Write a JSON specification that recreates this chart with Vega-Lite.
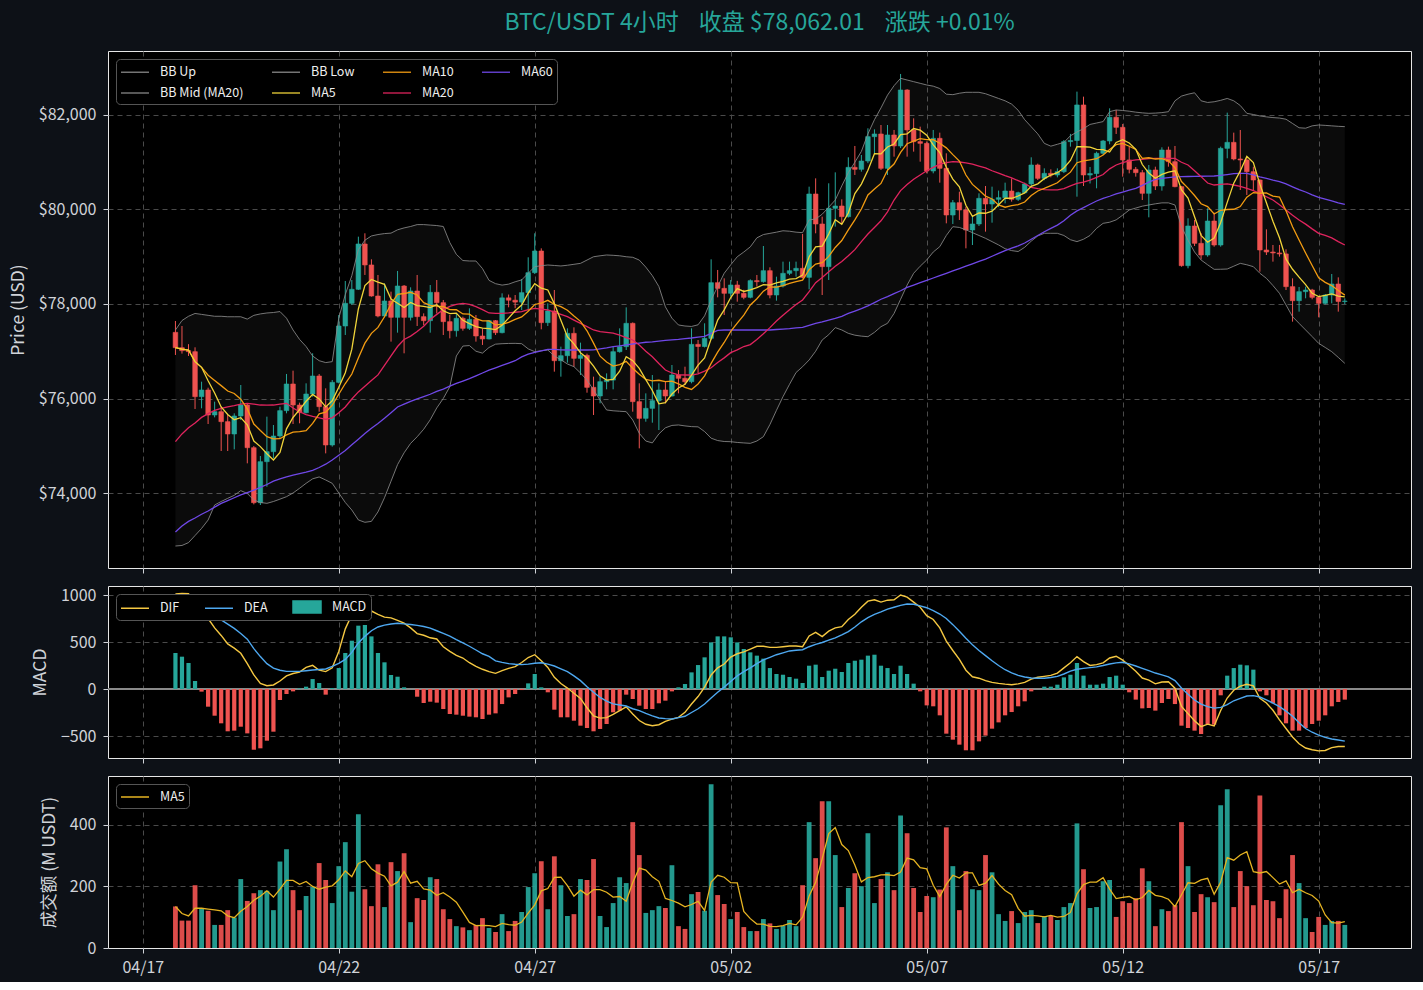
{
"$schema": "https://vega.github.io/schema/vega-lite/v6.json",
"background": "#0d1117",
"padding": {"left": 8, "top": 11, "right": 12, "bottom": 6},
"spacing": 11,
"config": {
  "font": "Noto Sans CJK SC",
  "view": {"fill": "#000000", "stroke": "#e6e6e6", "strokeWidth": 1},
  "axis": {"labelColor": "#d0d3d8", "titleColor": "#d0d3d8", "tickColor": "#d0d3d8", "domain": false, "gridColor": "#4a4a4a", "gridDash": [5, 4], "gridWidth": 1, "labelFontSize": 16, "titleFontSize": 17.5, "titleFontWeight": "normal", "tickSize": 5, "labelPadding": 7, "titlePadding": 11, "labelFont": "Noto Sans CJK SC", "titleFont": "Noto Sans CJK SC"},
  "legend": {"labelColor": "#eeeeee", "labelFontSize": 12.5, "labelFont": "Noto Sans CJK SC", "fillColor": "#000000", "strokeColor": "#555555", "cornerRadius": 4, "padding": 4, "offset": 8, "symbolType": "M-1,0L2.5,0", "symbolSize": 256, "symbolStrokeWidth": 1.5, "labelOffset": 22, "rowPadding": 5, "columnPadding": 25}
},
"resolve": {"scale": {"color": "independent"}, "legend": {"color": "independent"}},
"data": {"values": [
{"t":"2025-04-17T20:00Z","o":77400,"h":77640,"l":76921,"c":77076,"v":135,"bu":77450,"bl":72878,"m20":75086,"m60":73175,"dif":1011,"dea":805,"hist":383},
{"t":"2025-04-18T00:00Z","o":77076,"h":77534,"l":76950,"c":77012,"v":89,"bu":77650,"bl":72890,"m20":75250,"m60":73300,"dif":1018,"dea":876,"hist":344},
{"t":"2025-04-18T04:00Z","o":77012,"h":77150,"l":76900,"c":76991,"v":89,"bu":77740,"bl":72950,"m20":75380,"m60":73400,"dif":1015,"dea":885,"hist":277},
{"t":"2025-04-18T08:00Z","o":76991,"h":77083,"l":75778,"c":76039,"v":204,"bu":77800,"bl":73100,"m20":75480,"m60":73470,"dif":922,"dea":887,"hist":85},
{"t":"2025-04-18T12:00Z","o":76039,"h":76356,"l":75792,"c":76180,"v":129,"bu":77780,"bl":73250,"m20":75600,"m60":73550,"dif":840,"dea":869,"hist":-28},
{"t":"2025-04-18T16:00Z","o":76180,"h":76229,"l":75460,"c":75651,"v":121,"bu":77760,"bl":73428,"m20":75680,"m60":73620,"dif":750,"dea":830,"hist":-188},
{"t":"2025-04-18T20:00Z","o":75651,"h":75933,"l":75601,"c":75721,"v":75,"bu":77740,"bl":73746,"m20":75750,"m60":73700,"dif":650,"dea":775,"hist":-284},
{"t":"2025-04-19T00:00Z","o":75721,"h":75827,"l":74889,"c":75510,"v":75,"bu":77740,"bl":73820,"m20":75790,"m60":73781,"dif":570,"dea":735,"hist":-365},
{"t":"2025-04-19T04:00Z","o":75510,"h":75651,"l":74889,"c":75249,"v":123,"bu":77730,"bl":73887,"m20":75825,"m60":73840,"dif":480,"dea":690,"hist":-450},
{"t":"2025-04-19T08:00Z","o":75249,"h":75686,"l":74924,"c":75630,"v":99,"bu":77730,"bl":73950,"m20":75850,"m60":73900,"dif":435,"dea":645,"hist":-443},
{"t":"2025-04-19T12:00Z","o":75630,"h":76286,"l":75545,"c":75862,"v":224,"bu":77730,"bl":74050,"m20":75880,"m60":73960,"dif":380,"dea":590,"hist":-401},
{"t":"2025-04-19T16:00Z","o":75862,"h":75898,"l":74628,"c":74959,"v":153,"bu":77680,"bl":73990,"m20":75898,"m60":74010,"dif":270,"dea":530,"hist":-472},
{"t":"2025-04-19T20:00Z","o":74959,"h":74995,"l":73760,"c":73795,"v":178,"bu":77760,"bl":73850,"m20":75880,"m60":74060,"dif":150,"dea":430,"hist":-646},
{"t":"2025-04-20T00:00Z","o":73795,"h":74783,"l":73746,"c":74663,"v":188,"bu":77790,"bl":73800,"m20":75862,"m60":74120,"dif":60,"dea":345,"hist":-631},
{"t":"2025-04-20T04:00Z","o":74663,"h":75616,"l":74134,"c":74875,"v":186,"bu":77810,"bl":73781,"m20":75860,"m60":74180,"dif":35,"dea":270,"hist":-550},
{"t":"2025-04-20T08:00Z","o":74875,"h":75439,"l":74734,"c":75206,"v":123,"bu":77820,"bl":73820,"m20":75862,"m60":74250,"dif":43,"dea":223,"hist":-454},
{"t":"2025-04-20T12:00Z","o":75206,"h":75827,"l":75157,"c":75743,"v":281,"bu":77840,"bl":73870,"m20":75880,"m60":74300,"dif":85,"dea":200,"hist":-117},
{"t":"2025-04-20T16:00Z","o":75743,"h":76519,"l":75686,"c":76307,"v":321,"bu":77700,"bl":73922,"m20":75898,"m60":74340,"dif":140,"dea":188,"hist":-53},
{"t":"2025-04-20T20:00Z","o":76307,"h":76589,"l":75460,"c":75862,"v":188,"bu":77450,"bl":74000,"m20":75800,"m60":74380,"dif":165,"dea":188,"hist":-25},
{"t":"2025-04-21T00:00Z","o":75862,"h":75912,"l":75475,"c":75700,"v":123,"bu":77250,"bl":74100,"m20":75720,"m60":74410,"dif":180,"dea":188,"hist":7},
{"t":"2025-04-21T04:00Z","o":75700,"h":76321,"l":75686,"c":76095,"v":169,"bu":77100,"bl":74205,"m20":75660,"m60":74440,"dif":230,"dea":195,"hist":25},
{"t":"2025-04-21T08:00Z","o":76095,"h":76956,"l":76039,"c":76476,"v":199,"bu":76900,"bl":74300,"m20":75620,"m60":74480,"dif":252,"dea":202,"hist":106},
{"t":"2025-04-21T12:00Z","o":76476,"h":76519,"l":75721,"c":75827,"v":276,"bu":76800,"bl":74340,"m20":75590,"m60":74540,"dif":200,"dea":208,"hist":64},
{"t":"2025-04-21T16:00Z","o":75827,"h":76215,"l":74839,"c":75016,"v":221,"bu":76760,"bl":74275,"m20":75560,"m60":74610,"dif":185,"dea":213,"hist":-60},
{"t":"2025-04-21T20:00Z","o":75016,"h":76391,"l":74981,"c":76342,"v":146,"bu":76780,"bl":74205,"m20":75590,"m60":74700,"dif":225,"dea":240,"hist":10},
{"t":"2025-04-22T00:00Z","o":76342,"h":77767,"l":76321,"c":77534,"v":266,"bu":77700,"bl":74000,"m20":75700,"m60":74800,"dif":400,"dea":272,"hist":223},
{"t":"2025-04-22T04:00Z","o":77534,"h":78487,"l":77344,"c":78014,"v":344,"bu":78200,"bl":73800,"m20":75820,"m60":74900,"dif":640,"dea":315,"hist":383},
{"t":"2025-04-22T08:00Z","o":78014,"h":78508,"l":77979,"c":78311,"v":183,"bu":78600,"bl":73640,"m20":75990,"m60":75020,"dif":790,"dea":390,"hist":514},
{"t":"2025-04-22T12:00Z","o":78311,"h":79425,"l":78296,"c":79270,"v":435,"bu":79150,"bl":73430,"m20":76140,"m60":75140,"dif":850,"dea":490,"hist":674},
{"t":"2025-04-22T16:00Z","o":79270,"h":79496,"l":78614,"c":78826,"v":191,"bu":79350,"bl":73380,"m20":76260,"m60":75260,"dif":855,"dea":560,"hist":681},
{"t":"2025-04-22T20:00Z","o":78826,"h":78945,"l":78155,"c":78169,"v":136,"bu":79440,"bl":73400,"m20":76380,"m60":75370,"dif":830,"dea":620,"hist":560},
{"t":"2025-04-23T00:00Z","o":78169,"h":78614,"l":77718,"c":77746,"v":272,"bu":79470,"bl":73600,"m20":76500,"m60":75470,"dif":795,"dea":660,"hist":383},
{"t":"2025-04-23T04:00Z","o":77746,"h":78437,"l":77718,"c":78064,"v":133,"bu":79490,"bl":73900,"m20":76700,"m60":75580,"dif":765,"dea":680,"hist":284},
{"t":"2025-04-23T08:00Z","o":78064,"h":78261,"l":77203,"c":77718,"v":279,"bu":79500,"bl":74250,"m20":76900,"m60":75700,"dif":757,"dea":692,"hist":149},
{"t":"2025-04-23T12:00Z","o":77718,"h":78699,"l":77393,"c":78381,"v":250,"bu":79570,"bl":74600,"m20":77100,"m60":75820,"dif":730,"dea":699,"hist":131},
{"t":"2025-04-23T16:00Z","o":78381,"h":78402,"l":76956,"c":77718,"v":308,"bu":79610,"bl":74850,"m20":77250,"m60":75880,"dif":700,"dea":693,"hist":18},
{"t":"2025-04-23T20:00Z","o":77718,"h":78353,"l":77650,"c":78275,"v":84,"bu":79640,"bl":75050,"m20":77320,"m60":75940,"dif":650,"dea":686,"hist":0},
{"t":"2025-04-24T00:00Z","o":78275,"h":78614,"l":77534,"c":77732,"v":162,"bu":79680,"bl":75190,"m20":77420,"m60":75990,"dif":590,"dea":677,"hist":-82},
{"t":"2025-04-24T04:00Z","o":77732,"h":77802,"l":77550,"c":77647,"v":156,"bu":79680,"bl":75350,"m20":77530,"m60":76040,"dif":572,"dea":665,"hist":-149},
{"t":"2025-04-24T08:00Z","o":77647,"h":78402,"l":77393,"c":78247,"v":230,"bu":79670,"bl":75550,"m20":77670,"m60":76090,"dif":545,"dea":648,"hist":-135},
{"t":"2025-04-24T12:00Z","o":78247,"h":78508,"l":77802,"c":78028,"v":224,"bu":79660,"bl":75800,"m20":77780,"m60":76150,"dif":532,"dea":620,"hist":-145},
{"t":"2025-04-24T16:00Z","o":78028,"h":78085,"l":77344,"c":77626,"v":126,"bu":79640,"bl":76000,"m20":77880,"m60":76200,"dif":450,"dea":592,"hist":-213},
{"t":"2025-04-24T20:00Z","o":77626,"h":77767,"l":77273,"c":77435,"v":94,"bu":79300,"bl":76250,"m20":77950,"m60":76260,"dif":400,"dea":562,"hist":-266},
{"t":"2025-04-25T00:00Z","o":77435,"h":77802,"l":77308,"c":77697,"v":71,"bu":79050,"bl":76900,"m20":77990,"m60":76320,"dif":357,"dea":525,"hist":-273},
{"t":"2025-04-25T04:00Z","o":77697,"h":77732,"l":77435,"c":77485,"v":67,"bu":78920,"bl":77110,"m20":78014,"m60":76370,"dif":330,"dea":490,"hist":-284},
{"t":"2025-04-25T08:00Z","o":77485,"h":77908,"l":77450,"c":77675,"v":58,"bu":78910,"bl":77120,"m20":77990,"m60":76420,"dif":280,"dea":455,"hist":-294},
{"t":"2025-04-25T12:00Z","o":77675,"h":77767,"l":77203,"c":77323,"v":75,"bu":78910,"bl":77000,"m20":77943,"m60":76480,"dif":240,"dea":415,"hist":-301},
{"t":"2025-04-25T16:00Z","o":77323,"h":77480,"l":77133,"c":77260,"v":97,"bu":78750,"bl":76960,"m20":77880,"m60":76540,"dif":210,"dea":375,"hist":-319},
{"t":"2025-04-25T20:00Z","o":77260,"h":77661,"l":77250,"c":77647,"v":65,"bu":78500,"bl":77080,"m20":77810,"m60":76600,"dif":185,"dea":347,"hist":-273},
{"t":"2025-04-26T00:00Z","o":77647,"h":77661,"l":77344,"c":77393,"v":52,"bu":78430,"bl":77150,"m20":77802,"m60":76650,"dif":167,"dea":300,"hist":-259},
{"t":"2025-04-26T04:00Z","o":77393,"h":78226,"l":77379,"c":78130,"v":110,"bu":78400,"bl":77160,"m20":77802,"m60":76700,"dif":195,"dea":283,"hist":-160},
{"t":"2025-04-26T08:00Z","o":78130,"h":78200,"l":77930,"c":78080,"v":55,"bu":78420,"bl":77165,"m20":77810,"m60":76750,"dif":220,"dea":270,"hist":-89},
{"t":"2025-04-26T12:00Z","o":78080,"h":78190,"l":77910,"c":78040,"v":88,"bu":78470,"bl":77167,"m20":77825,"m60":76800,"dif":238,"dea":263,"hist":-53},
{"t":"2025-04-26T16:00Z","o":78040,"h":78529,"l":77873,"c":78240,"v":117,"bu":78510,"bl":77160,"m20":77840,"m60":76880,"dif":282,"dea":259,"hist":-11},
{"t":"2025-04-26T20:00Z","o":78240,"h":78988,"l":77859,"c":78663,"v":198,"bu":78650,"bl":77050,"m20":77880,"m60":76940,"dif":335,"dea":265,"hist":60},
{"t":"2025-04-27T00:00Z","o":78663,"h":79496,"l":78635,"c":79122,"v":243,"bu":78790,"bl":76991,"m20":77908,"m60":76977,"dif":365,"dea":274,"hist":160},
{"t":"2025-04-27T04:00Z","o":79122,"h":79178,"l":77464,"c":77605,"v":282,"bu":78810,"bl":77010,"m20":77890,"m60":77010,"dif":300,"dea":280,"hist":18},
{"t":"2025-04-27T08:00Z","o":77605,"h":78014,"l":77534,"c":77852,"v":126,"bu":78825,"bl":77026,"m20":77873,"m60":77040,"dif":230,"dea":265,"hist":-35},
{"t":"2025-04-27T12:00Z","o":77852,"h":78296,"l":76568,"c":76800,"v":298,"bu":78815,"bl":76900,"m20":77830,"m60":77040,"dif":124,"dea":245,"hist":-220},
{"t":"2025-04-27T16:00Z","o":76800,"h":77097,"l":76462,"c":76906,"v":204,"bu":78805,"bl":76820,"m20":77780,"m60":77030,"dif":58,"dea":215,"hist":-301},
{"t":"2025-04-27T20:00Z","o":76906,"h":77485,"l":76758,"c":77379,"v":104,"bu":78820,"bl":76730,"m20":77732,"m60":77026,"dif":10,"dea":185,"hist":-301},
{"t":"2025-04-28T00:00Z","o":77379,"h":77506,"l":76673,"c":76850,"v":110,"bu":78840,"bl":76673,"m20":77660,"m60":77026,"dif":-45,"dea":140,"hist":-337},
{"t":"2025-04-28T04:00Z","o":76850,"h":77182,"l":76497,"c":76913,"v":224,"bu":78860,"bl":76540,"m20":77590,"m60":77026,"dif":-100,"dea":89,"hist":-390},
{"t":"2025-04-28T08:00Z","o":76913,"h":76950,"l":76123,"c":76236,"v":221,"bu":78930,"bl":76391,"m20":77520,"m60":77026,"dif":-200,"dea":25,"hist":-415},
{"t":"2025-04-28T12:00Z","o":76236,"h":76462,"l":75651,"c":76053,"v":289,"bu":79000,"bl":76180,"m20":77450,"m60":77030,"dif":-285,"dea":-35,"hist":-450},
{"t":"2025-04-28T16:00Z","o":76053,"h":76462,"l":75898,"c":76356,"v":104,"bu":79020,"bl":75968,"m20":77414,"m60":77050,"dif":-310,"dea":-90,"hist":-425},
{"t":"2025-04-28T20:00Z","o":76356,"h":76532,"l":76194,"c":76390,"v":68,"bu":79037,"bl":75757,"m20":77400,"m60":77070,"dif":-305,"dea":-130,"hist":-372},
{"t":"2025-04-29T00:00Z","o":76390,"h":77097,"l":76194,"c":76991,"v":146,"bu":79030,"bl":75740,"m20":77385,"m60":77097,"dif":-270,"dea":-158,"hist":-248},
{"t":"2025-04-29T04:00Z","o":76991,"h":77485,"l":76970,"c":77097,"v":230,"bu":79020,"bl":75730,"m20":77340,"m60":77115,"dif":-230,"dea":-170,"hist":-230},
{"t":"2025-04-29T08:00Z","o":77097,"h":77929,"l":77026,"c":77591,"v":211,"bu":79000,"bl":75721,"m20":77290,"m60":77135,"dif":-190,"dea":-181,"hist":-60},
{"t":"2025-04-29T12:00Z","o":77591,"h":77610,"l":75721,"c":75933,"v":409,"bu":78988,"bl":75545,"m20":77238,"m60":77153,"dif":-265,"dea":-210,"hist":-106},
{"t":"2025-04-29T16:00Z","o":75933,"h":76321,"l":74945,"c":75580,"v":302,"bu":78930,"bl":75263,"m20":77132,"m60":77170,"dif":-335,"dea":-230,"hist":-177},
{"t":"2025-04-29T20:00Z","o":75580,"h":76109,"l":75509,"c":75792,"v":114,"bu":78780,"bl":75100,"m20":77000,"m60":77190,"dif":-375,"dea":-260,"hist":-213},
{"t":"2025-04-30T00:00Z","o":75792,"h":76497,"l":75488,"c":75954,"v":123,"bu":78600,"bl":75060,"m20":76885,"m60":77200,"dif":-390,"dea":-285,"hist":-213},
{"t":"2025-04-30T04:00Z","o":75954,"h":76321,"l":75333,"c":76180,"v":136,"bu":78370,"bl":75250,"m20":76740,"m60":77215,"dif":-380,"dea":-308,"hist":-152},
{"t":"2025-04-30T08:00Z","o":76180,"h":76356,"l":75897,"c":76053,"v":130,"bu":77940,"bl":75380,"m20":76603,"m60":77230,"dif":-345,"dea":-315,"hist":-124},
{"t":"2025-04-30T12:00Z","o":76053,"h":76709,"l":76040,"c":76497,"v":269,"bu":77700,"bl":75430,"m20":76540,"m60":77240,"dif":-320,"dea":-319,"hist":-25},
{"t":"2025-04-30T16:00Z","o":76497,"h":76603,"l":76109,"c":76427,"v":71,"bu":77556,"bl":75440,"m20":76500,"m60":77250,"dif":-301,"dea":-305,"hist":18},
{"t":"2025-04-30T20:00Z","o":76427,"h":76673,"l":76285,"c":76356,"v":62,"bu":77534,"bl":75420,"m20":76497,"m60":77265,"dif":-248,"dea":-290,"hist":53},
{"t":"2025-05-01T00:00Z","o":76356,"h":77485,"l":76321,"c":77146,"v":175,"bu":77525,"bl":75405,"m20":76497,"m60":77280,"dif":-160,"dea":-250,"hist":177},
{"t":"2025-05-01T04:00Z","o":77146,"h":77238,"l":76532,"c":77100,"v":182,"bu":77560,"bl":75400,"m20":76520,"m60":77300,"dif":-80,"dea":-210,"hist":255},
{"t":"2025-05-01T08:00Z","o":77100,"h":77591,"l":77080,"c":77273,"v":121,"bu":77750,"bl":75300,"m20":76580,"m60":77315,"dif":20,"dea":-160,"hist":337},
{"t":"2025-05-01T12:00Z","o":77273,"h":78945,"l":77240,"c":78451,"v":532,"bu":78085,"bl":75160,"m20":76650,"m60":77380,"dif":150,"dea":-95,"hist":496},
{"t":"2025-05-01T16:00Z","o":78451,"h":78720,"l":78141,"c":78331,"v":172,"bu":78370,"bl":75110,"m20":76760,"m60":77440,"dif":225,"dea":-35,"hist":560},
{"t":"2025-05-01T20:00Z","o":78331,"h":78543,"l":77767,"c":78226,"v":143,"bu":78650,"bl":75090,"m20":76860,"m60":77450,"dif":266,"dea":20,"hist":560},
{"t":"2025-05-02T00:00Z","o":78226,"h":78508,"l":78155,"c":78402,"v":94,"bu":78830,"bl":75086,"m20":76970,"m60":77450,"dif":340,"dea":80,"hist":550},
{"t":"2025-05-02T04:00Z","o":78402,"h":78490,"l":78049,"c":78226,"v":117,"bu":79000,"bl":75070,"m20":77030,"m60":77450,"dif":375,"dea":140,"hist":496},
{"t":"2025-05-02T08:00Z","o":78226,"h":78300,"l":78100,"c":78141,"v":68,"bu":79100,"bl":75060,"m20":77100,"m60":77450,"dif":395,"dea":185,"hist":426},
{"t":"2025-05-02T12:00Z","o":78141,"h":78522,"l":78120,"c":78494,"v":55,"bu":79210,"bl":75051,"m20":77140,"m60":77450,"dif":425,"dea":225,"hist":390},
{"t":"2025-05-02T16:00Z","o":78494,"h":78614,"l":78367,"c":78473,"v":55,"bu":79400,"bl":75100,"m20":77250,"m60":77450,"dif":455,"dea":270,"hist":355},
{"t":"2025-05-02T20:00Z","o":78473,"h":79227,"l":78450,"c":78705,"v":94,"bu":79470,"bl":75192,"m20":77370,"m60":77450,"dif":455,"dea":310,"hist":323},
{"t":"2025-05-03T00:00Z","o":78705,"h":78776,"l":78120,"c":78190,"v":80,"bu":79495,"bl":75450,"m20":77500,"m60":77450,"dif":443,"dea":337,"hist":223},
{"t":"2025-05-03T04:00Z","o":78190,"h":78578,"l":78070,"c":78381,"v":62,"bu":79520,"bl":75750,"m20":77640,"m60":77460,"dif":443,"dea":365,"hist":160},
{"t":"2025-05-03T08:00Z","o":78381,"h":78896,"l":78350,"c":78649,"v":72,"bu":79550,"bl":76039,"m20":77760,"m60":77470,"dif":450,"dea":385,"hist":152},
{"t":"2025-05-03T12:00Z","o":78649,"h":78896,"l":78610,"c":78705,"v":91,"bu":79540,"bl":76300,"m20":77880,"m60":77480,"dif":458,"dea":405,"hist":128},
{"t":"2025-05-03T16:00Z","o":78705,"h":78896,"l":78578,"c":78755,"v":71,"bu":79520,"bl":76550,"m20":77990,"m60":77495,"dif":458,"dea":412,"hist":110},
{"t":"2025-05-03T20:00Z","o":78755,"h":79481,"l":78543,"c":78564,"v":204,"bu":79510,"bl":76673,"m20":78085,"m60":77506,"dif":450,"dea":418,"hist":64},
{"t":"2025-05-04T00:00Z","o":78564,"h":80483,"l":78310,"c":80328,"v":409,"bu":79778,"bl":76815,"m20":78260,"m60":77550,"dif":565,"dea":450,"hist":248},
{"t":"2025-05-04T04:00Z","o":80328,"h":80659,"l":79496,"c":79693,"v":292,"bu":79800,"bl":77000,"m20":78451,"m60":77591,"dif":603,"dea":475,"hist":259},
{"t":"2025-05-04T08:00Z","o":79693,"h":79848,"l":78190,"c":78790,"v":477,"bu":79900,"bl":77238,"m20":78560,"m60":77620,"dif":557,"dea":495,"hist":128},
{"t":"2025-05-04T12:00Z","o":78790,"h":80554,"l":78508,"c":80025,"v":477,"bu":80050,"bl":77350,"m20":78680,"m60":77660,"dif":615,"dea":520,"hist":195},
{"t":"2025-05-04T16:00Z","o":80025,"h":80786,"l":79637,"c":80074,"v":302,"bu":80200,"bl":77500,"m20":78800,"m60":77697,"dif":650,"dea":545,"hist":216},
{"t":"2025-05-04T20:00Z","o":80074,"h":80215,"l":79707,"c":79848,"v":133,"bu":80500,"bl":77450,"m20":78900,"m60":77740,"dif":663,"dea":575,"hist":181},
{"t":"2025-05-05T00:00Z","o":79848,"h":81104,"l":79830,"c":80892,"v":195,"bu":80780,"bl":77379,"m20":79020,"m60":77800,"dif":740,"dea":610,"hist":277},
{"t":"2025-05-05T04:00Z","o":80892,"h":81344,"l":80730,"c":80850,"v":243,"bu":81000,"bl":77340,"m20":79150,"m60":77850,"dif":795,"dea":660,"hist":301},
{"t":"2025-05-05T08:00Z","o":80850,"h":81153,"l":80800,"c":81026,"v":201,"bu":81230,"bl":77320,"m20":79320,"m60":77900,"dif":870,"dea":715,"hist":312},
{"t":"2025-05-05T12:00Z","o":81026,"h":81718,"l":80980,"c":81541,"v":373,"bu":81600,"bl":77308,"m20":79480,"m60":77960,"dif":935,"dea":760,"hist":355},
{"t":"2025-05-05T16:00Z","o":81541,"h":81697,"l":81189,"c":81598,"v":146,"bu":81900,"bl":77400,"m20":79620,"m60":78030,"dif":950,"dea":795,"hist":365},
{"t":"2025-05-05T20:00Z","o":81598,"h":81788,"l":80836,"c":80871,"v":224,"bu":82150,"bl":77520,"m20":79760,"m60":78100,"dif":925,"dea":820,"hist":248},
{"t":"2025-05-06T00:00Z","o":80871,"h":81788,"l":80730,"c":81577,"v":246,"bu":82420,"bl":77591,"m20":79950,"m60":78155,"dif":945,"dea":850,"hist":223},
{"t":"2025-05-06T04:00Z","o":81577,"h":81683,"l":81118,"c":81344,"v":188,"bu":82620,"bl":77800,"m20":80200,"m60":78220,"dif":950,"dea":870,"hist":160},
{"t":"2025-05-06T08:00Z","o":81344,"h":82868,"l":81300,"c":82529,"v":431,"bu":82776,"bl":78100,"m20":80400,"m60":78280,"dif":1000,"dea":890,"hist":248},
{"t":"2025-05-06T12:00Z","o":82529,"h":82545,"l":81118,"c":81683,"v":373,"bu":82740,"bl":78400,"m20":80530,"m60":78350,"dif":978,"dea":904,"hist":160},
{"t":"2025-05-06T16:00Z","o":81683,"h":81929,"l":81224,"c":81436,"v":195,"bu":82705,"bl":78650,"m20":80640,"m60":78400,"dif":925,"dea":902,"hist":57},
{"t":"2025-05-06T20:00Z","o":81436,"h":81753,"l":81012,"c":81400,"v":117,"bu":82670,"bl":78800,"m20":80730,"m60":78450,"dif":870,"dea":885,"hist":-25},
{"t":"2025-05-07T00:00Z","o":81400,"h":81440,"l":80765,"c":80815,"v":169,"bu":82635,"bl":78931,"m20":80820,"m60":78500,"dif":780,"dea":865,"hist":-174},
{"t":"2025-05-07T04:00Z","o":80815,"h":81683,"l":80765,"c":81506,"v":165,"bu":82610,"bl":79100,"m20":80890,"m60":78550,"dif":740,"dea":835,"hist":-184},
{"t":"2025-05-07T08:00Z","o":81506,"h":81626,"l":80568,"c":80871,"v":190,"bu":82560,"bl":79213,"m20":80960,"m60":78600,"dif":650,"dea":798,"hist":-280},
{"t":"2025-05-07T12:00Z","o":80871,"h":81189,"l":79707,"c":79883,"v":392,"bu":82440,"bl":79450,"m20":80990,"m60":78650,"dif":510,"dea":750,"hist":-475},
{"t":"2025-05-07T16:00Z","o":79883,"h":80201,"l":79693,"c":80144,"v":266,"bu":82430,"bl":79636,"m20":81012,"m60":78700,"dif":410,"dea":685,"hist":-539},
{"t":"2025-05-07T20:00Z","o":80144,"h":80377,"l":79778,"c":79989,"v":123,"bu":82460,"bl":79620,"m20":81005,"m60":78750,"dif":315,"dea":615,"hist":-592},
{"t":"2025-05-08T00:00Z","o":79989,"h":80060,"l":79178,"c":79566,"v":250,"bu":82480,"bl":79570,"m20":80985,"m60":78800,"dif":200,"dea":540,"hist":-652},
{"t":"2025-05-08T04:00Z","o":79566,"h":79848,"l":79248,"c":79693,"v":191,"bu":82480,"bl":79510,"m20":80960,"m60":78850,"dif":130,"dea":470,"hist":-652},
{"t":"2025-05-08T08:00Z","o":79693,"h":80342,"l":79650,"c":80236,"v":188,"bu":82480,"bl":79450,"m20":80920,"m60":78900,"dif":115,"dea":410,"hist":-557},
{"t":"2025-05-08T12:00Z","o":80236,"h":80497,"l":79531,"c":80116,"v":302,"bu":82450,"bl":79390,"m20":80880,"m60":78950,"dif":90,"dea":355,"hist":-496},
{"t":"2025-05-08T16:00Z","o":80116,"h":80483,"l":79721,"c":80215,"v":246,"bu":82400,"bl":79320,"m20":80820,"m60":79010,"dif":70,"dea":300,"hist":-422},
{"t":"2025-05-08T20:00Z","o":80215,"h":80400,"l":80050,"c":80250,"v":110,"bu":82350,"bl":79250,"m20":80770,"m60":79070,"dif":60,"dea":250,"hist":-355},
{"t":"2025-05-09T00:00Z","o":80250,"h":80568,"l":80130,"c":80391,"v":88,"bu":82300,"bl":79170,"m20":80715,"m60":79130,"dif":52,"dea":205,"hist":-280},
{"t":"2025-05-09T04:00Z","o":80391,"h":80659,"l":80166,"c":80215,"v":120,"bu":82230,"bl":79130,"m20":80670,"m60":79180,"dif":46,"dea":172,"hist":-245},
{"t":"2025-05-09T08:00Z","o":80215,"h":80377,"l":80180,"c":80356,"v":81,"bu":82100,"bl":79110,"m20":80610,"m60":79230,"dif":55,"dea":145,"hist":-184},
{"t":"2025-05-09T12:00Z","o":80356,"h":80568,"l":80340,"c":80540,"v":117,"bu":81900,"bl":79200,"m20":80550,"m60":79290,"dif":70,"dea":128,"hist":-131},
{"t":"2025-05-09T16:00Z","o":80540,"h":81104,"l":80490,"c":80942,"v":123,"bu":81750,"bl":79330,"m20":80470,"m60":79370,"dif":105,"dea":117,"hist":-25},
{"t":"2025-05-09T20:00Z","o":80942,"h":80970,"l":80624,"c":80659,"v":81,"bu":81600,"bl":79440,"m20":80440,"m60":79450,"dif":125,"dea":114,"hist":0},
{"t":"2025-05-10T00:00Z","o":80659,"h":80871,"l":80620,"c":80765,"v":104,"bu":81400,"bl":79496,"m20":80420,"m60":79530,"dif":135,"dea":115,"hist":25},
{"t":"2025-05-10T04:00Z","o":80765,"h":80850,"l":80680,"c":80730,"v":104,"bu":81340,"bl":79496,"m20":80413,"m60":79600,"dif":145,"dea":122,"hist":25},
{"t":"2025-05-10T08:00Z","o":80730,"h":80871,"l":80680,"c":80800,"v":91,"bu":81380,"bl":79496,"m20":80413,"m60":79670,"dif":170,"dea":135,"hist":46},
{"t":"2025-05-10T12:00Z","o":80800,"h":81471,"l":80770,"c":81436,"v":133,"bu":81420,"bl":79450,"m20":80440,"m60":79760,"dif":225,"dea":160,"hist":124},
{"t":"2025-05-10T16:00Z","o":81436,"h":81600,"l":81330,"c":81460,"v":146,"bu":81560,"bl":79360,"m20":80500,"m60":79880,"dif":280,"dea":190,"hist":152},
{"t":"2025-05-10T20:00Z","o":81460,"h":82494,"l":80271,"c":82212,"v":405,"bu":81640,"bl":79320,"m20":80554,"m60":79970,"dif":345,"dea":210,"hist":277},
{"t":"2025-05-11T00:00Z","o":82212,"h":82388,"l":80497,"c":80730,"v":256,"bu":81710,"bl":79370,"m20":80580,"m60":80040,"dif":291,"dea":220,"hist":142},
{"t":"2025-05-11T04:00Z","o":80730,"h":80900,"l":80550,"c":80760,"v":130,"bu":81800,"bl":79450,"m20":80620,"m60":80110,"dif":251,"dea":228,"hist":46},
{"t":"2025-05-11T08:00Z","o":80760,"h":81224,"l":80448,"c":81189,"v":133,"bu":81830,"bl":79600,"m20":80680,"m60":80180,"dif":259,"dea":236,"hist":46},
{"t":"2025-05-11T12:00Z","o":81189,"h":81471,"l":81160,"c":81450,"v":217,"bu":81860,"bl":79707,"m20":80740,"m60":80236,"dif":278,"dea":250,"hist":57},
{"t":"2025-05-11T16:00Z","o":81450,"h":82141,"l":81380,"c":81951,"v":221,"bu":82070,"bl":79730,"m20":80860,"m60":80280,"dif":330,"dea":266,"hist":128},
{"t":"2025-05-11T20:00Z","o":81951,"h":82106,"l":81598,"c":81739,"v":101,"bu":82106,"bl":79780,"m20":80942,"m60":80328,"dif":349,"dea":278,"hist":142},
{"t":"2025-05-12T00:00Z","o":81739,"h":81810,"l":80695,"c":81048,"v":152,"bu":82095,"bl":79880,"m20":80990,"m60":80370,"dif":307,"dea":284,"hist":46},
{"t":"2025-05-12T04:00Z","o":81048,"h":81330,"l":80765,"c":80850,"v":146,"bu":82080,"bl":79989,"m20":81030,"m60":80410,"dif":251,"dea":268,"hist":-35},
{"t":"2025-05-12T08:00Z","o":80850,"h":80900,"l":80695,"c":80779,"v":162,"bu":82060,"bl":80030,"m20":81048,"m60":80448,"dif":189,"dea":245,"hist":-113},
{"t":"2025-05-12T12:00Z","o":80779,"h":80835,"l":80201,"c":80342,"v":259,"bu":82045,"bl":80070,"m20":81060,"m60":80510,"dif":117,"dea":220,"hist":-206},
{"t":"2025-05-12T16:00Z","o":80342,"h":80942,"l":79834,"c":80836,"v":217,"bu":82035,"bl":80095,"m20":81075,"m60":80580,"dif":94,"dea":195,"hist":-202},
{"t":"2025-05-12T20:00Z","o":80836,"h":80906,"l":80412,"c":80497,"v":71,"bu":82040,"bl":80120,"m20":81083,"m60":80638,"dif":55,"dea":170,"hist":-230},
{"t":"2025-05-13T00:00Z","o":80497,"h":81316,"l":80398,"c":81259,"v":126,"bu":82050,"bl":80140,"m20":81083,"m60":80660,"dif":75,"dea":150,"hist":-149},
{"t":"2025-05-13T04:00Z","o":81259,"h":81330,"l":80906,"c":81012,"v":120,"bu":82070,"bl":80140,"m20":81083,"m60":80675,"dif":77,"dea":130,"hist":-106},
{"t":"2025-05-13T08:00Z","o":81012,"h":81344,"l":80470,"c":80483,"v":139,"bu":82300,"bl":80095,"m20":81080,"m60":80690,"dif":9,"dea":89,"hist":-160},
{"t":"2025-05-13T12:00Z","o":80483,"h":80500,"l":78790,"c":78811,"v":409,"bu":82400,"bl":79637,"m20":81000,"m60":80695,"dif":-185,"dea":10,"hist":-390},
{"t":"2025-05-13T16:00Z","o":78811,"h":79813,"l":78755,"c":79651,"v":266,"bu":82440,"bl":79350,"m20":80942,"m60":80698,"dif":-262,"dea":-55,"hist":-415},
{"t":"2025-05-13T20:00Z","o":79651,"h":79778,"l":79227,"c":79284,"v":117,"bu":82470,"bl":79100,"m20":80820,"m60":80700,"dif":-338,"dea":-117,"hist":-443},
{"t":"2025-05-14T00:00Z","o":79284,"h":79496,"l":78945,"c":79037,"v":175,"bu":82300,"bl":78931,"m20":80695,"m60":80703,"dif":-400,"dea":-160,"hist":-479},
{"t":"2025-05-14T04:00Z","o":79037,"h":80025,"l":79000,"c":79756,"v":165,"bu":82265,"bl":78830,"m20":80560,"m60":80706,"dif":-374,"dea":-188,"hist":-372},
{"t":"2025-05-14T08:00Z","o":79756,"h":79933,"l":79213,"c":79248,"v":149,"bu":82280,"bl":78733,"m20":80518,"m60":80709,"dif":-393,"dea":-203,"hist":-379},
{"t":"2025-05-14T12:00Z","o":79248,"h":81330,"l":79213,"c":81294,"v":464,"bu":82310,"bl":78735,"m20":80530,"m60":80720,"dif":-228,"dea":-195,"hist":-67},
{"t":"2025-05-14T16:00Z","o":81294,"h":82049,"l":81083,"c":81421,"v":516,"bu":82350,"bl":78740,"m20":80540,"m60":80740,"dif":-96,"dea":-167,"hist":142},
{"t":"2025-05-14T20:00Z","o":81421,"h":81626,"l":81040,"c":81069,"v":133,"bu":82300,"bl":78800,"m20":80518,"m60":80760,"dif":-13,"dea":-125,"hist":223},
{"t":"2025-05-15T00:00Z","o":81069,"h":81682,"l":80412,"c":81048,"v":250,"bu":82200,"bl":78860,"m20":80490,"m60":80765,"dif":30,"dea":-100,"hist":259},
{"t":"2025-05-15T04:00Z","o":81048,"h":81118,"l":80307,"c":80800,"v":201,"bu":82035,"bl":78830,"m20":80448,"m60":80765,"dif":51,"dea":-75,"hist":252},
{"t":"2025-05-15T08:00Z","o":80800,"h":80906,"l":80412,"c":80624,"v":139,"bu":82010,"bl":78790,"m20":80400,"m60":80730,"dif":33,"dea":-70,"hist":206},
{"t":"2025-05-15T12:00Z","o":80624,"h":80640,"l":78684,"c":79143,"v":496,"bu":81980,"bl":78650,"m20":80342,"m60":80690,"dif":-98,"dea":-85,"hist":-25},
{"t":"2025-05-15T16:00Z","o":79143,"h":79580,"l":79037,"c":79100,"v":156,"bu":81960,"bl":78543,"m20":80270,"m60":80660,"dif":-148,"dea":-115,"hist":-67},
{"t":"2025-05-15T20:00Z","o":79100,"h":79249,"l":78896,"c":79080,"v":152,"bu":81945,"bl":78390,"m20":80200,"m60":80620,"dif":-226,"dea":-150,"hist":-152},
{"t":"2025-05-16T00:00Z","o":79080,"h":79250,"l":79002,"c":79060,"v":97,"bu":81935,"bl":78226,"m20":80100,"m60":80589,"dif":-328,"dea":-188,"hist":-280},
{"t":"2025-05-16T04:00Z","o":79060,"h":79157,"l":78296,"c":78367,"v":191,"bu":81910,"bl":77980,"m20":79989,"m60":80540,"dif":-420,"dea":-235,"hist":-365},
{"t":"2025-05-16T08:00Z","o":78367,"h":78543,"l":77626,"c":78070,"v":302,"bu":81820,"bl":77732,"m20":79880,"m60":80480,"dif":-510,"dea":-290,"hist":-443},
{"t":"2025-05-16T12:00Z","o":78070,"h":78360,"l":77838,"c":78261,"v":211,"bu":81730,"bl":77590,"m20":79778,"m60":80420,"dif":-582,"dea":-360,"hist":-443},
{"t":"2025-05-16T16:00Z","o":78261,"h":78367,"l":78120,"c":78296,"v":97,"bu":81720,"bl":77450,"m20":79690,"m60":80370,"dif":-628,"dea":-420,"hist":-415},
{"t":"2025-05-16T20:00Z","o":78296,"h":78320,"l":78099,"c":78141,"v":52,"bu":81770,"bl":77310,"m20":79590,"m60":80310,"dif":-646,"dea":-460,"hist":-372},
{"t":"2025-05-17T00:00Z","o":78141,"h":78160,"l":77718,"c":78014,"v":101,"bu":81788,"bl":77167,"m20":79496,"m60":80257,"dif":-658,"dea":-490,"hist":-337},
{"t":"2025-05-17T04:00Z","o":78014,"h":78212,"l":77990,"c":78190,"v":75,"bu":81780,"bl":77080,"m20":79450,"m60":80220,"dif":-654,"dea":-514,"hist":-280},
{"t":"2025-05-17T08:00Z","o":78190,"h":78635,"l":78014,"c":78423,"v":88,"bu":81770,"bl":76991,"m20":79400,"m60":80180,"dif":-624,"dea":-532,"hist":-184},
{"t":"2025-05-17T12:00Z","o":78423,"h":78564,"l":77838,"c":78054,"v":88,"bu":81760,"bl":76870,"m20":79320,"m60":80140,"dif":-611,"dea":-542,"hist":-138},
{"t":"2025-05-17T16:00Z","o":78054,"h":78120,"l":78000,"c":78062.01,"v":75,"bu":81753,"bl":76744,"m20":79249,"m60":80109,"dif":-611,"dea":-555,"hist":-113}
]},
"vconcat": [
{
  "width": 1303, "height": 517,
  "title": {"text": "BTC/USDT 4小时\u00a0\u00a0\u00a0\u2009收盘 $78,062.01\u00a0\u00a0\u00a0\u2009涨跌 +0.01%", "color": "#26a69a", "fontSize": 23, "fontWeight": "normal", "font": "Noto Sans CJK SC", "anchor": "middle", "offset": 16},
  "encoding": {
    "x": {"field": "t", "type": "temporal", "title": null,
      "scale": {"type": "utc", "domain": [{"year": 2025, "month": 4, "date": 16, "hours": 5, "minutes": 46, "utc": true}, {"year": 2025, "month": 5, "date": 19, "hours": 5, "minutes": 28, "utc": true}]},
      "axis": {"labels": false, "grid": true, "values": [{"year": 2025, "month": 4, "date": 17, "utc": true}, {"year": 2025, "month": 4, "date": 22, "utc": true}, {"year": 2025, "month": 4, "date": 27, "utc": true}, {"year": 2025, "month": 5, "date": 2, "utc": true}, {"year": 2025, "month": 5, "date": 7, "utc": true}, {"year": 2025, "month": 5, "date": 12, "utc": true}, {"year": 2025, "month": 5, "date": 17, "utc": true}]}}
  },
  "layer": [
    {"mark": {"type": "area", "color": "#ffffff", "opacity": 0.045},
     "encoding": {"y": {"field": "bl", "type": "quantitative", "title": "Price (USD)", "scale": {"domain": [72413, 83354], "nice": false, "zero": false}, "axis": {"values": [74000, 76000, 78000, 80000, 82000], "format": "$,.0f", "grid": true}}, "y2": {"field": "bu"}}},
    {"mark": {"type": "rule", "strokeWidth": 1},
     "encoding": {"y": {"field": "l", "type": "quantitative", "title": "Price (USD)"}, "y2": {"field": "h"},
       "color": {"condition": {"test": "datum.c >= datum.o", "value": "#26a69a"}, "value": "#ef5350"}}},
    {"mark": {"type": "bar", "size": 4.6, "strokeWidth": 0.6},
     "encoding": {"y": {"field": "o", "type": "quantitative", "title": "Price (USD)"}, "y2": {"field": "c"},
       "color": {"condition": {"test": "datum.c >= datum.o", "value": "#26a69a"}, "value": "#ef5350"},
       "stroke": {"condition": {"test": "datum.c >= datum.o", "value": "#26a69a"}, "value": "#ef5350"}}},
    {"transform": [{"fold": ["bu", "bl"], "as": ["key", "val"]}],
     "mark": {"type": "line", "strokeWidth": 1, "opacity": 0.85},
     "encoding": {"y": {"field": "val", "type": "quantitative", "title": "Price (USD)"},
       "color": {"field": "key", "type": "nominal",
         "scale": {"domain": ["bu", "mid", "bl", "m5", "m10", "m20", "m60"], "range": ["#8a8a8a", "#8a8a8a", "#8a8a8a", "#f0d43a", "#f39c12", "#e0245e", "#7048e8"]},
         "legend": {"title": null, "orient": "top-left", "columns": 4,
           "labelExpr": "datum.label == 'bu' ? 'BB Up' : datum.label == 'bl' ? 'BB Low' : datum.label == 'mid' ? 'BB Mid (MA20)' : datum.label == 'm5' ? 'MA5' : datum.label == 'm10' ? 'MA10' : datum.label == 'm20' ? 'MA20' : 'MA60'",
           "encode": {"symbols": {"update": {"strokeDash": {"signal": "datum.value == 'mid' ? [3, 2] : [1, 0]"}, "strokeWidth": {"signal": "datum.value == 'mid' ? 1 : 1.5"}}}}}}}},
    {"transform": [
       {"window": [{"op": "mean", "field": "c", "as": "m5"}], "frame": [-4, 0], "sort": [{"field": "t"}]},
       {"window": [{"op": "mean", "field": "c", "as": "m10"}], "frame": [-9, 0], "sort": [{"field": "t"}]},
       {"fold": ["m60", "m20", "m10", "m5"], "as": ["key", "val"]}],
     "mark": {"type": "line", "strokeWidth": 1.3},
     "encoding": {"y": {"field": "val", "type": "quantitative", "title": "Price (USD)"},
       "color": {"field": "key", "type": "nominal"}}}
  ]
},
{
  "width": 1303, "height": 172,
  "layer": [
    {"mark": {"type": "rule", "color": "#8a8a8a", "strokeWidth": 1},
     "encoding": {"y": {"datum": 0, "type": "quantitative", "title": "MACD", "scale": {"domain": [-734, 1096], "nice": false, "zero": false}, "axis": {"values": [-500, 0, 500, 1000], "format": "d", "grid": true}}}},
    {"mark": {"type": "bar", "size": 4.2},
     "encoding": {
       "x": {"field": "t", "type": "temporal", "title": null,
         "scale": {"type": "utc", "domain": [{"year": 2025, "month": 4, "date": 16, "hours": 5, "minutes": 46, "utc": true}, {"year": 2025, "month": 5, "date": 19, "hours": 5, "minutes": 28, "utc": true}]},
         "axis": {"labels": false, "grid": true, "values": [{"year": 2025, "month": 4, "date": 17, "utc": true}, {"year": 2025, "month": 4, "date": 22, "utc": true}, {"year": 2025, "month": 4, "date": 27, "utc": true}, {"year": 2025, "month": 5, "date": 2, "utc": true}, {"year": 2025, "month": 5, "date": 7, "utc": true}, {"year": 2025, "month": 5, "date": 12, "utc": true}, {"year": 2025, "month": 5, "date": 17, "utc": true}]}},
       "y": {"field": "hist", "type": "quantitative", "title": "MACD"},
       "color": {"condition": {"test": "datum.hist >= 0", "value": "#26a69a"}, "value": "#ef5350"}}},
    {"transform": [{"fold": ["dif", "dea"], "as": ["key", "val"]}],
     "mark": {"type": "line", "strokeWidth": 1.4},
     "encoding": {
       "x": {"field": "t", "type": "temporal", "title": null},
       "y": {"field": "val", "type": "quantitative", "title": "MACD"},
       "color": {"field": "key", "type": "nominal",
         "scale": {"domain": ["dif", "dea", "macd"], "range": ["#f5c842", "#4ea8f0", "#26a69a"]},
         "legend": {"title": null, "orient": "top-left", "columns": 3, "columnPadding": 22,
           "labelExpr": "datum.label == 'dif' ? 'DIF' : datum.label == 'dea' ? 'DEA' : 'MACD'",
           "encode": {"symbols": {"update": {
             "shape": {"signal": "datum.value == 'macd' ? 'M-1,-0.75L2.5,-0.75L2.5,0.75L-1,0.75Z' : 'M-1,0L2.5,0'"},
             "fill": {"signal": "datum.value == 'macd' ? '#26a69a' : 'transparent'"}}}}}}}}
  ]
},
{
  "width": 1303, "height": 172,
  "encoding": {
    "x": {"field": "t", "type": "temporal", "title": null,
      "scale": {"type": "utc", "domain": [{"year": 2025, "month": 4, "date": 16, "hours": 5, "minutes": 46, "utc": true}, {"year": 2025, "month": 5, "date": 19, "hours": 5, "minutes": 28, "utc": true}]},
      "axis": {"format": "%m/%d", "grid": true, "labelPadding": 6, "values": [{"year": 2025, "month": 4, "date": 17, "utc": true}, {"year": 2025, "month": 4, "date": 22, "utc": true}, {"year": 2025, "month": 4, "date": 27, "utc": true}, {"year": 2025, "month": 5, "date": 2, "utc": true}, {"year": 2025, "month": 5, "date": 7, "utc": true}, {"year": 2025, "month": 5, "date": 12, "utc": true}, {"year": 2025, "month": 5, "date": 17, "utc": true}]}}
  },
  "layer": [
    {"mark": {"type": "bar", "size": 4.8, "opacity": 0.92},
     "encoding": {"y": {"field": "v", "type": "quantitative", "title": "成交额 (M USDT)", "scale": {"domain": [0, 559], "nice": false}, "axis": {"values": [0, 200, 400], "grid": true, "gridOpacity": {"condition": {"test": "datum.value === 0", "value": 0}, "value": 1}}},
       "color": {"condition": {"test": "datum.c >= datum.o", "value": "#26a69a"}, "value": "#ef5350"}}},
    {"transform": [{"window": [{"op": "mean", "field": "v", "as": "vma"}], "frame": [-4, 0], "sort": [{"field": "t"}]}],
     "mark": {"type": "line", "strokeWidth": 1.3},
     "encoding": {"y": {"field": "vma", "type": "quantitative", "title": "成交额 (M USDT)"},
       "color": {"datum": "MA5", "type": "nominal", "scale": {"domain": ["MA5"], "range": ["#e6b422"]}, "legend": {"title": null, "orient": "top-left"}}}}
  ]
}
]
}
